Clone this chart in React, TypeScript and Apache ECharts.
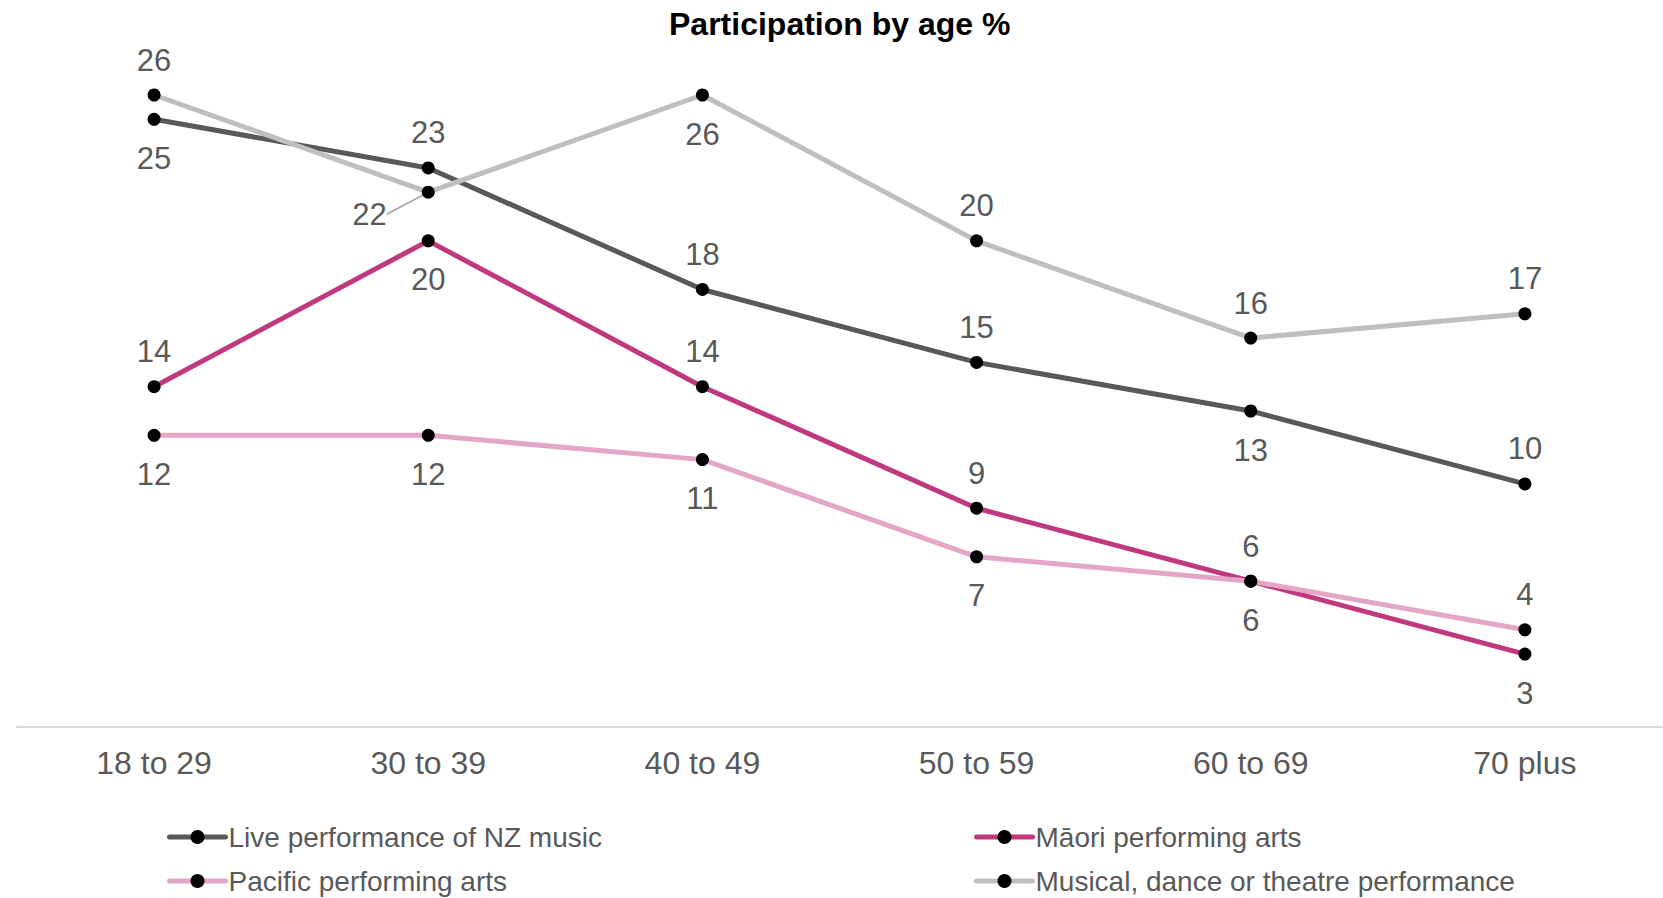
import React, { useEffect, useRef } from "react";
import * as echarts from "echarts";

// Age bands along the category axis
const ageBands = ["18 to 29", "30 to 39", "40 to 49", "50 to 59", "60 to 69", "70 plus"];

// Participation percentages per activity
const liveNzMusic = [25, 23, 18, 15, 13, 10];
const maoriArts = [14, 20, 14, 9, 6, 3];
const pacificArts = [12, 12, 11, 7, 6, 4];
const musicalTheatre = [26, 22, 26, 20, 16, 17];

// Where each value label sits relative to its point
const livePlacement = ["bottom", "top", "top", "top", "bottom", "top"];
const maoriPlacement = ["top", "bottom", "top", "top", "top", "bottom"];
const pacificPlacement = ["bottom", "bottom", "bottom", "bottom", "bottom", "top"];
const musicalPlacement = ["top", "left", "bottom", "top", "top", "top"];

const TEXT_GREY = "#595959";
const FONT = "'Liberation Sans', Arial, sans-serif";

const distanceFor: Record<string, number> = { top: 13, bottom: 17, left: 8 };

function makeSeries(name: string, values: number[], placement: string[], color: string) {
  return {
    name,
    type: "line",
    data: values.map((v, i) => ({
      value: v,
      label: { position: placement[i], distance: distanceFor[placement[i]] },
    })),
    symbol: "circle",
    symbolSize: 13,
    itemStyle: { color: "#000000" },
    lineStyle: { color, width: 5 },
    label: {
      show: true,
      color: TEXT_GREY,
      fontSize: 31,
      fontFamily: FONT,
    },
    labelLine: { show: false },
  };
}

const legendBase = {
  orient: "vertical",
  top: 818,
  height: 80,
  itemWidth: 56,
  itemHeight: 17.5,
  itemGap: 16,
  lineStyle: { width: 5, cap: "round" },
  textStyle: { color: TEXT_GREY, fontSize: 28, fontFamily: FONT, padding: [0, 0, 0, -2] },
};

export default function App() {
  const ref = useRef<HTMLDivElement>(null);

  useEffect(() => {
    if (!ref.current) return;
    const chart = echarts.init(ref.current, undefined, { renderer: "svg" });

    const musical: any = makeSeries(
      "Musical, dance or theatre performance",
      musicalTheatre,
      musicalPlacement,
      "#BFBFBF"
    );
    // The "22" label is nudged below-left of its point with a leader line
    musical.labelLayout = (params: any) =>
      params.dataIndex === 1 ? { dx: -27, dy: 22 } : {};
    musical.data[1].labelLine = {
      show: true,
      lineStyle: { color: "#A6A6A6", width: 1.5 },
    };

    chart.setOption({
      animation: false,
      backgroundColor: "#ffffff",
      title: {
        text: "Participation by age %",
        left: 664,
        top: 3,
        textStyle: {
          color: "#000000",
          fontSize: 32,
          fontWeight: "bold",
          fontFamily: FONT,
        },
      },
      grid: { left: 17, right: 1, top: 95, bottom: 171, containLabel: false },
      xAxis: {
        type: "category",
        data: ageBands,
        boundaryGap: true,
        axisLine: { show: true, lineStyle: { color: "#D9D9D9", width: 2 } },
        axisTick: { show: false },
        splitLine: { show: false },
        axisLabel: {
          color: TEXT_GREY,
          fontSize: 32,
          fontFamily: FONT,
          margin: 20,
          interval: 0,
        },
      },
      yAxis: {
        type: "value",
        min: 0,
        max: 26,
        show: false,
        splitLine: { show: false },
      },
      legend: [
        {
          ...legendBase,
          data: ["Live performance of NZ music", "Pacific performing arts"],
          left: 162,
        },
        {
          ...legendBase,
          data: ["Māori performing arts", "Musical, dance or theatre performance"],
          left: 969,
        },
      ],
      series: [
        makeSeries("Live performance of NZ music", liveNzMusic, livePlacement, "#595959"),
        makeSeries("Māori performing arts", maoriArts, maoriPlacement, "#C0397F"),
        makeSeries("Pacific performing arts", pacificArts, pacificPlacement, "#E4A6C7"),
        musical,
      ],
    });

    return () => chart.dispose();
  }, []);

  return (
    <div
      ref={ref}
      style={{ position: "fixed", left: 0, top: 0, width: 1663, height: 898 }}
    />
  );
}
